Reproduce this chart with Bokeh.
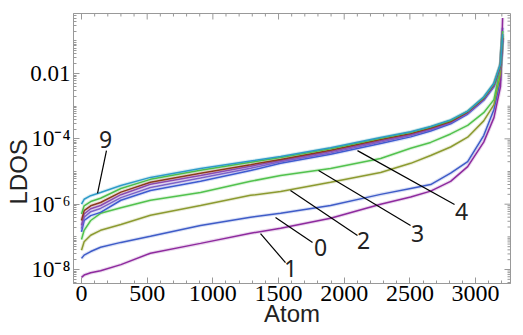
import math
from bokeh.plotting import figure
from bokeh.models import Range1d, FixedTicker, ColumnDataSource
from bokeh.core.properties import value
from bokeh.embed import file_html
from bokeh.resources import INLINE

# ---- data (LDOS given as log10 of the value) ----
atom = [0, 20, 70, 145, 300, 525, 906, 1287, 1516, 1896, 2277, 2506, 2658,
        2810, 2940, 3062, 3140, 3190, 3206]

ldos_log10_0 = [-7.66, -7.56, -7.45, -7.32, -7.17, -6.98, -6.65, -6.40, -6.28,
                -6.04, -5.70, -5.52, -5.40, -5.05, -4.70, -3.90, -3.10, -2.20,
                -0.60]
ldos_log10_1 = [-8.24, -8.17, -8.10, -8.04, -7.85, -7.50, -7.20, -6.89, -6.74,
                -6.43, -6.00, -5.78, -5.60, -5.30, -4.85, -4.10, -3.35, -2.40,
                -0.30]
ldos_log10_2 = [-7.41, -7.15, -6.95, -6.80, -6.62, -6.34, -6.04, -5.73, -5.61,
                -5.33, -5.03, -4.75, -4.51, -4.25, -3.95, -3.45, -2.95, -2.00,
                -0.80]
ldos_log10_3 = [-7.08, -6.80, -6.50, -6.28, -6.11, -5.88, -5.64, -5.30, -5.12,
                -4.91, -4.60, -4.29, -4.11, -3.85, -3.59, -3.20, -2.80, -1.80,
                -0.70]
ldos_log10_4 = [-6.85, -6.50, -6.35, -6.25, -5.88, -5.58, -5.30, -4.97, -4.75,
                -4.47, -4.14, -3.94, -3.76, -3.54, -3.24, -2.82, -2.40, -1.80,
                -1.00]
ldos_log10_5 = [-6.75, -6.40, -6.23, -6.13, -5.80, -5.49, -5.20, -4.90, -4.70,
                -4.43, -4.10, -3.90, -3.72, -3.51, -3.22, -2.80, -2.38, -1.78,
                -0.95]
ldos_log10_6 = [-6.65, -6.30, -6.14, -6.04, -5.71, -5.39, -5.12, -4.84, -4.66,
                -4.39, -4.06, -3.87, -3.70, -3.49, -3.20, -2.78, -2.36, -1.76,
                -0.90]
ldos_log10_7 = [-6.50, -6.20, -6.05, -5.95, -5.63, -5.33, -5.05, -4.79, -4.63,
                -4.35, -4.02, -3.84, -3.67, -3.47, -3.18, -2.76, -2.34, -1.74,
                -0.90]
ldos_log10_8 = [-6.30, -6.05, -5.92, -5.82, -5.52, -5.24, -4.96, -4.72, -4.57,
                -4.30, -3.98, -3.80, -3.64, -3.44, -3.16, -2.74, -2.32, -1.72,
                -0.85]
ldos_log10_9 = [-6.00, -5.85, -5.74, -5.64, -5.43, -5.18, -4.91, -4.68, -4.54,
                -4.27, -3.96, -3.78, -3.62, -3.42, -3.15, -2.72, -2.30, -1.70,
                -0.80]

series = [ldos_log10_0, ldos_log10_1, ldos_log10_2, ldos_log10_3, ldos_log10_4,
          ldos_log10_5, ldos_log10_6, ldos_log10_7, ldos_log10_8, ldos_log10_9]
colors = ["#3F5CC8", "#8E2A9E", "#8C9A30", "#52C24E", "#3E5BD0",
          "#7B62C9", "#8A4BB0", "#8B3A1C", "#4DBD4A", "#2D9BC8"]

x_ticks = [0, 500, 1000, 1500, 2000, 2500, 3000]
y_tick_vals = [1e-8, 1e-6, 1e-4, 1e-2]
y_tick_labels = ["10\u207b\u2078", "10\u207b\u2076", "10\u207b\u2074", "0.01"]

# curve labels with leader lines (annotation positions)
lab_text = ["9", "0", "1", "2", "3", "4"]
lab_x = [183, 1820, 1591, 2147, 2558, 2893]
lab_y = [10**-4.02, 10**-7.33, 10**-7.97, 10**-7.11, 10**-6.90, 10**-6.22]
lead_x0 = [190, 1477, 1363, 1591, 1805, 2101]
lead_y0 = [10**-4.36, 10**-6.41, 10**-6.90, 10**-5.58, 10**-4.97, 10**-4.36]
lead_x1 = [122, 1759, 1553, 2101, 2505, 2840]
lead_y1 = [10**-5.67, 10**-7.17, 10**-7.79, 10**-6.96, 10**-6.65, 10**-6.01]

# ---- figure ----
X0, X1 = -61, 3266
Y0, Y1 = 3.73e-9, 0.687
p = figure(width=523, height=335, output_backend="svg", toolbar_location=None,
           y_axis_type="log",
           x_range=Range1d(X0, X1), y_range=Range1d(Y0, Y1),
           min_border_left=73, min_border_right=13, min_border_top=13,
           min_border_bottom=52)
p.grid.visible = False
frame_col = "#999999"
p.outline_line_color = frame_col
p.outline_line_width = 1
p.background_fill_color = "white"

for vals, col in zip(series, colors):
    ys = [10 ** v for v in vals]
    p.line(atom, ys, line_color=col, line_width=3.6, line_alpha=0.18)
for vals, col in zip(series, colors):
    ys = [10 ** v for v in vals]
    p.line(atom, ys, line_color=col, line_width=1.5)

lsrc = ColumnDataSource(dict(x0=lead_x0, y0=lead_y0, x1=lead_x1, y1=lead_y1))
p.segment(x0="x0", y0="y0", x1="x1", y1="y1", source=lsrc,
          line_color="black", line_width=1.2)
tsrc = ColumnDataSource(dict(x=lab_x, y=lab_y, t=lab_text))
p.text(x="x", y="y", text="t", source=tsrc, text_font=value("Noto Sans"),
       text_font_size="23px", text_align="center", text_baseline="middle",
       text_color="#222222")

y_major = y_tick_vals
y_minor = [m * 10.0 ** k for k in range(-9, 0) for m in range(1, 10)
           if not (m == 1 and 10.0 ** k in y_major)]
x_minor = [t for t in range(-100, 3300, 100) if t not in x_ticks]


def style_axis(ax):
    ax.axis_line_color = frame_col
    ax.major_tick_line_color = frame_col
    ax.minor_tick_line_color = frame_col
    ax.major_tick_in = 6
    ax.major_tick_out = 0
    ax.minor_tick_in = 3
    ax.minor_tick_out = 0


xa = p.xaxis[0]
xa.ticker = FixedTicker(ticks=x_ticks, minor_ticks=x_minor)
style_axis(xa)
xa.major_label_text_font = "Liberation Serif"
xa.major_label_text_font_size = "24px"
xa.major_label_text_color = "black"
xa.major_label_standoff = 2
xa.axis_label = "Atom"
xa.axis_label_text_font = "Liberation Sans"
xa.axis_label_text_font_style = "normal"
xa.axis_label_text_font_size = "24px"
xa.axis_label_text_color = "#222222"
xa.axis_label_standoff = -4

ya = p.yaxis[0]
ya.ticker = FixedTicker(ticks=y_major, minor_ticks=y_minor)
style_axis(ya)
ya.major_label_overrides = dict(zip(y_tick_vals, y_tick_labels))
ya.major_label_text_font = "Liberation Serif"
ya.major_label_text_font_size = "23px"
ya.major_label_text_color = "black"
ya.major_label_standoff = 3
# trailing no-break spaces push the visible word down along the axis
ya.axis_label = "LDOS" + "\u00a0" * 7
ya.axis_label_text_font = "Liberation Sans"
ya.axis_label_text_font_style = "normal"
ya.axis_label_text_font_size = "24px"
ya.axis_label_text_color = "#222222"
ya.axis_label_standoff = -5

# inward frame ticks on the top and right edges, placed at the tick values
px_x = (X1 - X0) / 437.0          # data units per pixel along x
dec_px = math.log10(Y1 / Y0) / 270.0  # decades per pixel along y
top_x = x_ticks + x_minor
top_len = [6 if t in x_ticks else 3 for t in top_x]
p.segment(x0=top_x, x1=top_x, y0=[Y1] * len(top_x),
          y1=[Y1 * 10 ** (-dec_px * L) for L in top_len],
          line_color=frame_col, line_width=1)
right_y = y_major + y_minor
right_len = [6 if t in y_major else 3 for t in right_y]
p.segment(x0=[X1] * len(right_y), x1=[X1 - px_x * L for L in right_len],
          y0=right_y, y1=right_y, line_color=frame_col, line_width=1)

open("out.html", "w").write(file_html(p, INLINE))
